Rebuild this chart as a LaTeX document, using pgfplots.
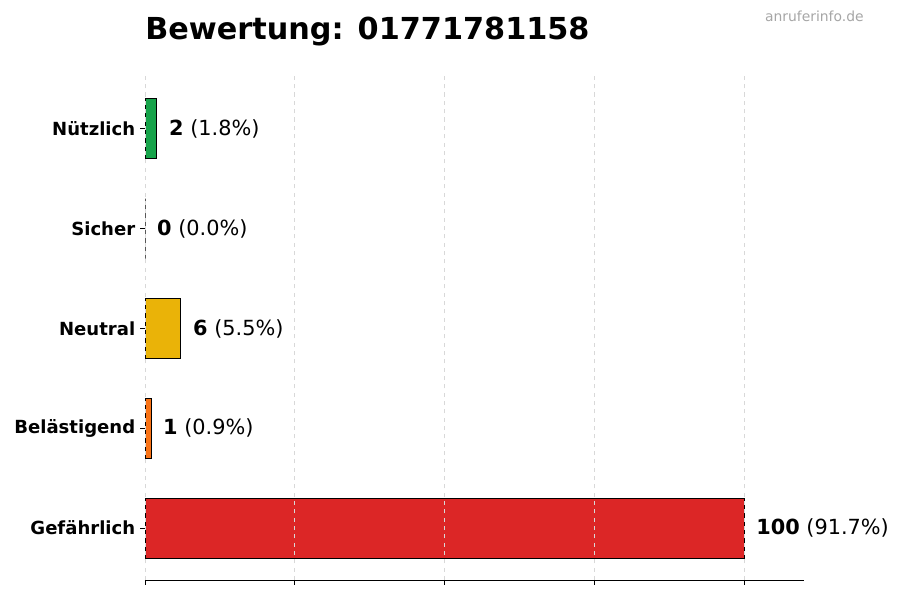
\documentclass[border=0pt]{standalone}
\usepackage{pgfplots}
\pgfplotsset{compat=1.18}
\usepackage{fontspec}
\setmainfont{DejaVu Sans}

\definecolor{cgreen}{HTML}{16A34A}
\definecolor{cyellow}{HTML}{EAB308}
\definecolor{corange}{HTML}{F97316}
\definecolor{cred}{HTML}{DC2626}
\definecolor{gridc}{HTML}{D8D8D8}

% 1px of the reference = 0.72pt
\begin{document}
\begin{tikzpicture}
\path[use as bounding box] (0,0) rectangle (648pt,432pt);
\begin{axis}[
  at={(104.4pt,14.4pt)}, anchor=south west,
  scale only axis, width=474.5pt, height=363.6pt,
  xmin=0, xmax=110, ymin=-0.52, ymax=4.54,
  xtick={0,25,50,75,100}, xticklabels={},
  ytick={0,1,2,3,4},
  yticklabels={Gefährlich,Belästigend,Neutral,Sicher,Nützlich},
  yticklabel style={font=\fontsize{13pt}{15pt}\selectfont\bfseries},
  tick align=outside, major tick length=3.5pt,
  tick style={black, line width=0.6pt},
  axis x line*=bottom, axis y line*=left,
  y axis line style={draw=none},
  x axis line style={line width=0.6pt,-},
  xmajorgrids, major grid style={gridc, dashed, line width=0.6pt},
  axis on top,
  xbar, bar width=43.2pt, bar shift=0pt,
  every axis plot/.append style={draw=black, line width=0.7pt},
  clip=false,
]
\addplot[fill=cred] coordinates {(100,0)};
\addplot[fill=corange] coordinates {(1,1)};
\addplot[fill=cyellow] coordinates {(6,2)};
\addplot[fill=white] coordinates {(0,3)};
\addplot[fill=cgreen] coordinates {(2,4)};

\begin{scope}[every node/.style={anchor=west, inner sep=0pt, xshift=8.6pt,
    font=\fontsize{15pt}{18pt}\selectfont}]
\node at (axis cs:100,0) {\textbf{100} (91.7\%)};
\node at (axis cs:1,1) {\textbf{1} (0.9\%)};
\node at (axis cs:6,2) {\textbf{6} (5.5\%)};
\node at (axis cs:0,3) {\textbf{0} (0.0\%)};
\node at (axis cs:2,4) {\textbf{2} (1.8\%)};
\end{scope}
\end{axis}
\node[anchor=base west, inner sep=0pt, font=\fontsize{21.8pt}{26pt}\selectfont\bfseries]
  at (104.4pt,403.2pt) {Bewertung: 01771781158};
\node[anchor=base east, inner sep=0pt, text=black!35, font=\fontsize{10pt}{12pt}\selectfont]
  at (622pt,416.2pt) {anruferinfo.de};
\end{tikzpicture}
\end{document}
